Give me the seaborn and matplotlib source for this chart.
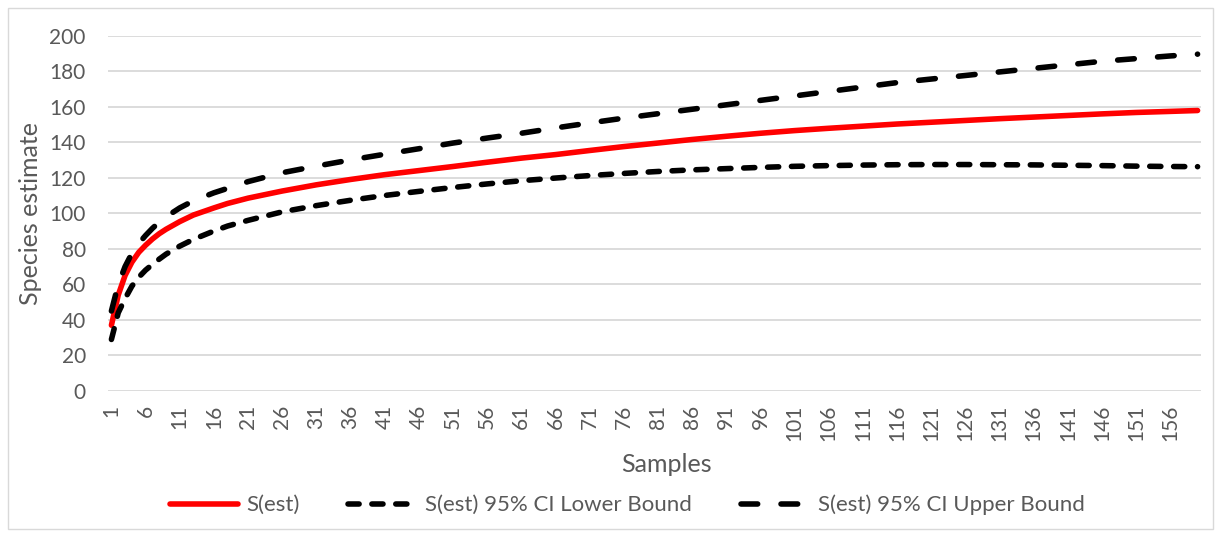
import pandas as pd
import numpy as np
import seaborn as sns
import matplotlib.pyplot as plt
from matplotlib.patches import Rectangle

# DATA
samples = [1, 2, 3, 4, 5, 6, 7, 8, 9, 11, 13, 16, 18, 21, 26, 31, 36, 41, 46, 51, 56, 61, 66, 71,
           76, 81, 86, 91, 96, 101, 106, 111, 116, 121, 126, 131, 136, 141, 146, 151, 156, 160]
s_est = [37, 54, 65, 72.5, 78, 82, 85.5, 88.5, 91, 95.3, 99, 103, 105.5, 108.5, 112.5, 116,
         119, 121.7, 124, 126.3, 128.7, 131, 133, 135.3, 137.5, 139.5, 141.5, 143.3, 145,
         146.5, 147.8, 149, 150.2, 151.2, 152.2, 153.2, 154.1, 155, 155.9, 156.7, 157.3, 157.8]
lower_ci = [29, 44, 52, 59, 64, 68, 71.2, 74.2, 77, 81.5, 85.3, 90, 92.8, 96, 100.8, 104.3,
            107.3, 110, 112.3, 114.5, 116.5, 118.3, 119.8, 121.2, 122.4, 123.5, 124.4, 125.1,
            125.8, 126.4, 126.8, 127.1, 127.3, 127.4, 127.4, 127.3, 127.2, 127, 126.8, 126.5,
            126.3, 126.2]
upper_ci = [45, 60, 70, 77.5, 83, 87.5, 91.5, 95, 98, 103, 107, 111.5, 114, 117.8, 122.8,
            126.5, 130, 133.2, 136.3, 139.5, 142.3, 145, 148, 150.8, 153.5, 156, 158.5, 161,
            163.5, 166, 168.5, 171, 173.5, 175.5, 177.5, 179.5, 181.5, 183.5, 185.5, 187,
            188.5, 189.5]
x_ticks = list(range(1, 157, 5))
y_ticks = list(range(0, 201, 20))

names = ["S(est)", "S(est) 95% CI Lower Bound", "S(est) 95% CI Upper Bound"]
df = pd.concat([
    pd.DataFrame({"Samples": samples, "value": s_est, "series": names[0]}),
    pd.DataFrame({"Samples": samples, "value": lower_ci, "series": names[1]}),
    pd.DataFrame({"Samples": samples, "value": upper_ci, "series": names[2]}),
])

#  VISUAL SETTINGS
sns.set_theme(style="white")
plt.rcParams["font.family"] = ["Lato", "DejaVu Sans"]
text_gray = "#595959"

fig = plt.figure(figsize=(12.22, 5.37), dpi=100)
ax = fig.add_axes([108 / 1222, 1 - 391 / 537, (1201 - 108) / 1222, (391 - 35.5) / 537])

lw = 4
sns.lineplot(
    data=df, x="Samples", y="value", hue="series", style="series",
    palette={names[0]: "#ff0000", names[1]: "black", names[2]: "black"},
    dashes={names[0]: "", names[1]: (2.0, 2.3), names[2]: (3.0, 4.2)},
    linewidth=lw, dash_capstyle="round", solid_capstyle="round",
    ax=ax, zorder=3,
)

ax.set_xlim(0.5, 160.5)
ax.set_ylim(0, 200)
ax.set_yticks(y_ticks)
ax.set_xticks(x_ticks)
ax.set_xticklabels([str(t) for t in x_ticks], rotation=90)
ax.tick_params(axis="both", length=0, labelsize=15, colors=text_gray)
ax.tick_params(axis="y", pad=16)
ax.tick_params(axis="x", pad=10)
ax.yaxis.grid(True, color="#d9d9d9", linewidth=1.3)
ax.xaxis.grid(False)
for s in ax.spines.values():
    s.set_visible(False)
ax.set_axisbelow(True)

ax.set_xlabel("Samples", fontsize=18, color=text_gray)
ax.set_ylabel("Species estimate", fontsize=18, color=text_gray)
ax.xaxis.set_label_coords((666 - 108) / 1093, (391 - 453) / 355.5)
ax.yaxis.set_label_coords((42 - 108) / 1093, 0.5)

handles, labels = ax.get_legend_handles_labels()
ax.legend(handles, labels, loc="center",
          bbox_to_anchor=((627 - 108) / 1093, 1 - (505 - 35.5) / (391 - 35.5)),
          ncol=3, frameon=False, fontsize=16, labelcolor=text_gray,
          handlelength=3.1, handletextpad=0.35, columnspacing=2.2)

# chart area border
fig.patches.append(Rectangle((8 / 1222, 8 / 537), 1 - 17 / 1222, 1 - 16 / 537,
                             transform=fig.transFigure, fill=False,
                             edgecolor="#d9d9d9", linewidth=1))

fig.savefig("out.png", dpi=100)
